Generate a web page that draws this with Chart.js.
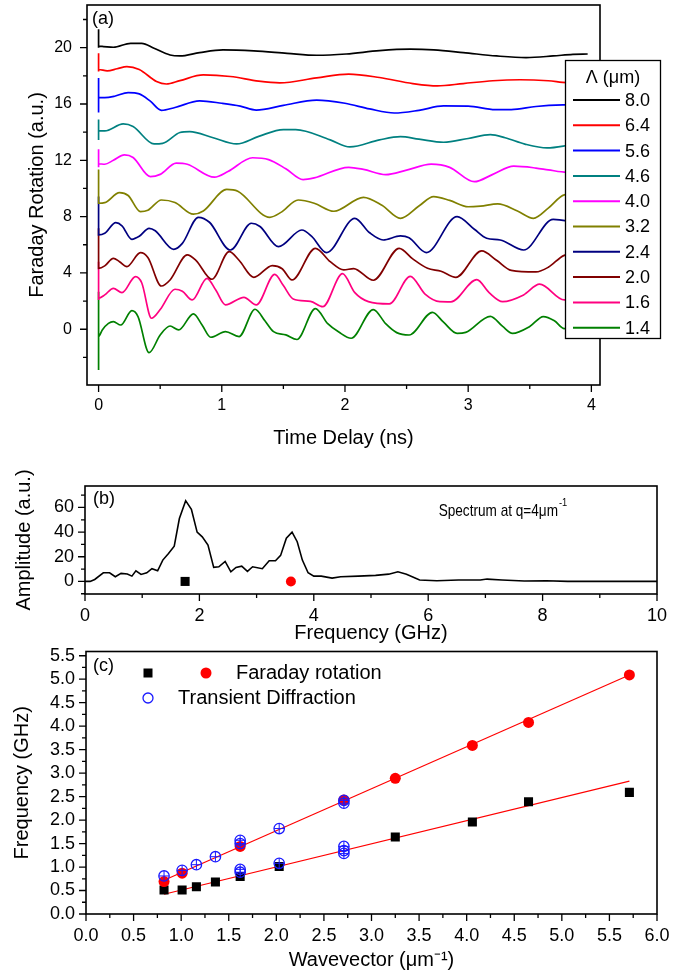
<!DOCTYPE html>
<html><head><meta charset="utf-8">
<script src="https://cdn.jsdelivr.net/npm/chart.js@4.4.0/dist/chart.umd.min.js"></script>
<style>
html,body{margin:0;padding:0;background:#fff;}
body{width:681px;height:975px;position:relative;overflow:hidden;}
canvas{position:absolute;left:0;display:block;}
</style></head><body>
<canvas id="ca" width="681" height="455" style="top:0px"></canvas>
<canvas id="cb" width="681" height="190" style="top:455px"></canvas>
<canvas id="cc" width="681" height="330" style="top:645px"></canvas>
<script>
// ---------------- DATA: panel (a) Faraday rotation traces ----------------
const lambdaLabels = ['8.0','6.4','5.6','4.6','4.0','3.2','2.4','2.0','1.6','1.4'];
const t80 = [0,0,0,0.04,0.12,0.26,0.35,0.45,0.58,0.66,0.82,1.01,1.26,1.53,1.77,2.01,2.28,2.53,2.72,2.96,3.23,3.47,3.69,3.85,3.97];
const v80 = [20.0,21.3,20.1,20.08,20.03,20.31,20.31,19.96,19.48,19.41,19.65,19.84,19.77,19.6,19.46,19.55,19.79,19.89,19.84,19.65,19.41,19.29,19.41,19.53,19.55];
const t64 = [0,0,0,0.07,0.15,0.23,0.33,0.47,0.55,0.66,0.85,1.07,1.3,1.47,1.77,2.03,2.28,2.55,2.75,2.96,3.2,3.42,3.65,3.8,4.0];
const v64 = [18.3,19.6,18.45,18.35,18.5,18.66,18.45,17.6,17.42,17.66,18.06,17.95,17.62,17.5,17.85,18.12,17.88,17.45,17.28,17.45,17.65,17.72,17.65,17.52,17.5];
const t56 = [0,0,0,0.05,0.13,0.24,0.33,0.42,0.51,0.62,0.82,1.0,1.15,1.28,1.5,1.77,2.0,2.2,2.4,2.6,2.8,3.0,3.22,3.35,3.55,3.77,4.0];
const v56 = [15.4,17.85,16.45,16.45,16.55,16.81,16.72,16.2,15.55,15.75,16.22,16.05,15.85,15.57,15.9,16.28,16.05,15.65,15.36,15.55,15.86,15.85,15.6,15.6,15.82,15.93,15.95];
const t46 = [0,0,0,0.05,0.2,0.28,0.45,0.52,0.66,0.74,0.93,1.12,1.3,1.5,1.6,1.88,2.04,2.28,2.45,2.6,2.8,3.0,3.18,3.3,3.46,3.64,3.8,4.0];
const v46 = [13.45,14.9,14.1,14.09,14.58,14.4,13.16,13.2,13.97,14.04,13.6,13.16,13.7,14.18,14.18,13.45,12.95,13.45,13.68,13.5,13.28,13.55,13.82,13.6,13.15,12.88,13.05,13.4];
const t40 = [0,0,0,0.05,0.12,0.21,0.28,0.42,0.5,0.63,0.72,0.94,1.05,1.25,1.38,1.52,1.66,1.75,2.03,2.15,2.33,2.5,2.7,2.85,3.05,3.2,3.37,3.55,3.65,3.8,4.0];
const v40 = [11.5,12.78,11.75,11.72,12.0,12.38,12.2,10.84,11.0,11.8,11.72,10.8,11.2,12.18,12.05,11.4,10.63,10.75,11.5,11.35,10.98,11.3,11.73,11.5,10.48,11.0,11.58,11.45,11.32,11.15,11.3];
const t32 = [0,0,0,0.05,0.17,0.24,0.34,0.4,0.51,0.62,0.77,0.85,1.04,1.13,1.39,1.48,1.62,1.75,1.91,2.15,2.3,2.45,2.6,2.72,2.85,3.0,3.1,3.24,3.4,3.53,3.65,3.78,4.0];
const v32 = [9.2,11.35,8.95,8.99,9.7,9.5,8.35,8.45,9.18,9.0,8.17,8.4,9.93,9.8,7.95,8.3,9.18,8.95,8.38,9.37,8.8,7.88,8.75,9.42,9.15,8.7,8.75,8.9,8.4,7.88,8.6,9.54,9.7];
const t24 = [0,0,0,0.05,0.14,0.19,0.27,0.33,0.41,0.46,0.61,0.68,0.81,0.9,1.07,1.24,1.31,1.46,1.65,1.73,1.85,2.08,2.2,2.31,2.45,2.52,2.66,2.91,3.05,3.15,3.26,3.45,3.69,3.8,4.0];
const v24 = [7.17,9.42,6.7,6.82,7.57,7.35,6.39,6.6,7.17,7.0,5.68,6.1,7.95,7.6,5.63,7.53,7.3,5.87,7.05,6.6,5.44,7.88,6.85,6.34,6.63,6.5,5.44,8.0,7.1,6.46,6.34,5.63,7.81,7.7,7.2];
const t20 = [0,0,0,0.05,0.12,0.17,0.23,0.34,0.4,0.51,0.58,0.72,0.79,0.92,1.06,1.14,1.26,1.41,1.49,1.57,1.76,1.88,1.99,2.07,2.23,2.44,2.55,2.67,2.78,2.9,3.11,3.23,3.35,3.55,3.65,3.78,4.0];
const v20 = [5.04,7.17,4.33,4.5,5.04,4.8,4.45,5.44,5.1,3.07,3.5,5.28,4.9,3.55,5.51,4.9,3.69,4.52,4.3,3.5,5.75,4.8,4.21,4.31,3.48,5.75,5.0,4.33,4.12,3.69,5.57,4.9,4.18,4.07,4.4,5.25,5.5];
const t16 = [0,0,0,0.05,0.12,0.19,0.3,0.35,0.43,0.5,0.62,0.68,0.76,0.88,0.95,1.03,1.18,1.28,1.43,1.5,1.58,1.72,1.82,1.98,2.08,2.19,2.36,2.53,2.65,2.77,2.86,3.07,3.17,3.28,3.45,3.58,3.78,4.0];
const v16 = [2.08,4.8,2.2,2.44,2.91,2.6,3.74,3.3,0.78,1.4,2.84,2.7,2.08,3.62,2.8,1.73,2.27,1.73,3.9,3.1,2.15,1.98,1.6,3.95,2.6,1.96,1.8,3.76,2.5,1.96,1.95,3.52,2.6,1.96,2.44,3.2,2.08,2.3];
const t14 = [0,0,0,0.03,0.08,0.12,0.18,0.27,0.32,0.41,0.5,0.58,0.65,0.77,0.84,0.91,1.03,1.14,1.27,1.35,1.42,1.52,1.61,1.76,1.86,1.95,2.05,2.23,2.33,2.42,2.52,2.71,2.8,2.91,2.98,3.18,3.28,3.36,3.5,3.61,3.7,3.78,4.0];
const v14 = [-2.89,2.67,-0.52,-0.05,0.42,0.54,0.3,1.32,0.9,-1.66,-0.41,0.23,-0.05,1.09,0.3,-0.57,-0.17,-0.52,1.42,0.6,-0.17,-0.4,-0.73,1.47,0.4,-0.2,-0.64,1.4,0.4,-0.24,-0.41,1.2,0.5,-0.29,-0.22,0.92,0.2,-0.29,0.2,0.9,0.6,0.05,0.5];
const timeSeries = [t80,t64,t56,t46,t40,t32,t24,t20,t16,t14];
const rotSeries  = [v80,v64,v56,v46,v40,v32,v24,v20,v16,v14];
const aXMajor = [0,1,2,3,4], aXMinor = [0.5,1.5,2.5,3.5];
const aYMajor = [0,4,8,12,16,20], aYMinor = [-2,2,6,10,14,18,22];

// ---------------- DATA: panel (b) spectrum ----------------
const freqB = [0,0.09,0.17,0.32,0.43,0.53,0.63,0.74,0.82,0.89,0.98,1.08,1.17,1.27,1.36,1.46,1.56,1.65,1.76,1.86,1.96,2.05,2.15,2.25,2.34,2.45,2.55,2.64,2.74,2.84,2.93,3.1,3.22,3.33,3.42,3.52,3.62,3.71,3.8,3.9,4.0,4.13,4.32,4.47,4.78,5.08,5.31,5.47,5.62,5.85,6.15,6.53,6.91,7.03,7.29,7.68,8.06,8.44,9.2,10];
const ampB  = [0,0,1.6,7,7,3.8,6.5,6,4.3,8.6,5.7,7,10.3,8.6,17.3,22.7,28.6,51,65.5,58.4,40,36.2,29.5,11.4,11.9,16.2,7.8,11.4,12.4,8.1,11.9,10.3,16.8,16.8,21.1,35.1,40,32.2,17.3,7,4.3,4.3,2.7,3.8,4.3,4.9,5.9,7.8,5.9,1.1,0.5,1.1,1.1,1.9,1.1,0.3,0.5,0,0,0];
const peakLowFreq = [1.75], peakLowAmp = [0];
const peakHighFreq = [3.6], peakHighAmp = [0];
const bXMajor = [0,2,4,6,8,10], bXMinor = [1,3,5,7,9];
const bYMajor = [0,20,40,60], bYMinor = [-10,10,30,50,70];

// ---------------- DATA: panel (c) dispersion ----------------
const qLow  = [0.82,1.01,1.16,1.36,1.62,2.03,3.25,4.06,4.65,5.71];
const fLow  = [0.51,0.51,0.58,0.68,0.8,1.01,1.64,1.96,2.39,2.59];
const qHigh = [0.82,1.01,1.62,2.71,3.25,4.06,4.65,5.71];
const fHigh = [0.69,0.87,1.44,2.43,2.89,3.59,4.08,5.09];
const qTD   = [0.82,1.01,1.16,1.36,1.62,1.62,2.03,2.71,2.71,1.62,1.62,2.03,2.71,2.71,2.71];
const fTD   = [0.81,0.93,1.05,1.22,1.57,1.5,1.82,2.42,2.36,0.95,0.89,1.08,1.44,1.35,1.29];
const qFit = [0.82,5.71], fFitHigh = [0.72,5.09], fFitLow = [0.42,2.83];
const cXMajor = [0,0.5,1,1.5,2,2.5,3,3.5,4,4.5,5,5.5,6];
const cXMinor = [0.25,0.75,1.25,1.75,2.25,2.75,3.25,3.75,4.25,4.75,5.25,5.75];
const cYMajor = [0,0.5,1,1.5,2,2.5,3,3.5,4,4.5,5,5.5];
const cYMinor = [0.25,0.75,1.25,1.75,2.25,2.75,3.25,3.75,4.25,4.75,5.25];

// ---------------- STYLE ----------------
const lineColors = ['#000000','#ff0000','#0000ff','#008080','#ff00ff','#808000','#000080','#800000','#ff0080','#008000'];
const FONT = '"Liberation Sans", Arial, Helvetica, sans-serif';
Chart.defaults.font.family = FONT;
Chart.defaults.color = '#000';

const pts = (xs, ys) => xs.map((x, i) => ({x: x, y: ys[i]}));

function options(W, H, area, xc, yc) {
  return {
    responsive: false, animation: false, devicePixelRatio: 1,
    layout: {padding: {left: 0, right: W - area.right, top: area.top, bottom: 0}},
    plugins: {legend: {display: false}, tooltip: {enabled: false}},
    scales: {
      x: {
        type: 'linear', position: 'bottom', min: xc.min, max: xc.max,
        grid: {display: false, drawTicks: false}, border: {display: false},
        ticks: {font: {size: xc.size}, padding: xc.pad, maxRotation: 0, autoSkip: false, callback: v => xc.fmt(v)},
        afterBuildTicks: s => { s.ticks = xc.major.map(v => ({value: v})); },
        afterFit: s => { s.height = H - area.bottom; s.paddingLeft = 0; s.paddingRight = 0; s.paddingTop = 0; s.paddingBottom = 0; },
        title: {display: true, text: xc.title, font: {size: 20}, color: '#000', padding: {top: 0, bottom: xc.tpad}}
      },
      y: {
        type: 'linear', position: 'left', min: yc.min, max: yc.max,
        grid: {display: false, drawTicks: false}, border: {display: false},
        ticks: {font: {size: yc.size}, padding: yc.pad, autoSkip: false, callback: v => yc.fmt(v)},
        afterBuildTicks: s => { s.ticks = yc.major.map(v => ({value: v})); },
        afterFit: s => { s.width = area.left; s.paddingLeft = 0; s.paddingRight = 0; s.paddingTop = 0; s.paddingBottom = 0; },
        title: {display: true, text: yc.title, font: {size: 20}, color: '#000', padding: {top: yc.tpad, bottom: 0}}
      }
    }
  };
}

function drawFrame(chart, xMaj, xMin, yMaj, yMin) {
  const {ctx, chartArea: a, scales: {x, y}} = chart;
  ctx.save();
  ctx.strokeStyle = '#000';
  ctx.lineWidth = 1.3;
  ctx.beginPath();
  xMaj.forEach(v => { const p = x.getPixelForValue(v); ctx.moveTo(p, a.bottom); ctx.lineTo(p, a.bottom + 7); });
  xMin.forEach(v => { const p = x.getPixelForValue(v); ctx.moveTo(p, a.bottom); ctx.lineTo(p, a.bottom + 4); });
  yMaj.forEach(v => { const p = y.getPixelForValue(v); ctx.moveTo(a.left, p); ctx.lineTo(a.left - 7, p); });
  yMin.forEach(v => { const p = y.getPixelForValue(v); ctx.moveTo(a.left, p); ctx.lineTo(a.left - 4, p); });
  ctx.stroke();
  ctx.lineWidth = 1.6;
  ctx.strokeRect(a.left, a.top, a.right - a.left, a.bottom - a.top);
  ctx.restore();
}

function text(ctx, s, x, y, size, align, sx) {
  ctx.save();
  ctx.font = size + 'px ' + FONT;
  ctx.fillStyle = '#000';
  ctx.textAlign = align || 'left';
  ctx.textBaseline = 'middle';
  ctx.translate(x, y);
  ctx.scale(sx || 1, 1);
  ctx.fillText(s, 0, 0);
  ctx.restore();
}

// ---------------- PANEL (a) ----------------
const areaA = {left: 87, right: 600, top: 5, bottom: 385};
new Chart(document.getElementById('ca'), {
  type: 'line',
  data: {
    datasets: lambdaLabels.map((lab, i) => ({
      label: lab, data: pts(timeSeries[i], rotSeries[i]),
      borderColor: lineColors[i], borderWidth: 1.7, pointRadius: 0,
      cubicInterpolationMode: 'monotone', fill: false
    }))
  },
  options: options(681, 455, areaA,
    {min: -0.094, max: 4.07, major: aXMajor, fmt: v => String(v), size: 16, pad: 11, title: 'Time Delay (ns)', tpad: 5},
    {min: -3.96, max: 23.03, major: aYMajor, fmt: v => String(v), size: 16, pad: 15, title: 'Faraday Rotation (a.u.)', tpad: 25}),
  plugins: [{
    id: 'decorA',
    afterDraw(chart) {
      const ctx = chart.ctx;
      drawFrame(chart, aXMajor, aXMinor, aYMajor, aYMinor);
      text(ctx, '(a)', 92, 19, 18, 'left');
      ctx.save();
      ctx.fillStyle = '#fff';
      ctx.fillRect(565, 60, 95, 278);
      ctx.strokeStyle = '#000'; ctx.lineWidth = 1.3;
      ctx.strokeRect(565.5, 60.5, 95, 278);
      ctx.restore();
      text(ctx, 'Λ (μm)', 613, 78, 18, 'center');
      lambdaLabels.forEach((lab, i) => {
        const yy = 100 + i * 25.3;
        ctx.save();
        ctx.strokeStyle = lineColors[i]; ctx.lineWidth = 2;
        ctx.beginPath(); ctx.moveTo(573, yy); ctx.lineTo(620, yy); ctx.stroke();
        ctx.restore();
        text(ctx, lab, 625, yy + 1, 18, 'left');
      });
    }
  }]
});

// ---------------- PANEL (b) ----------------
const areaB = {left: 85, right: 657, top: 31, bottom: 139};
new Chart(document.getElementById('cb'), {
  type: 'line',
  data: {
    datasets: [
      {data: pts(peakLowFreq, peakLowAmp), showLine: false, pointStyle: 'rect', pointRadius: 6.4, backgroundColor: '#000', borderColor: '#000', borderWidth: 0},
      {data: pts(peakHighFreq, peakHighAmp), showLine: false, pointStyle: 'circle', pointRadius: 5, backgroundColor: '#ff0000', borderColor: '#ff0000', borderWidth: 0},
      {data: pts(freqB, ampB), borderColor: '#000', borderWidth: 1.6, pointRadius: 0, tension: 0, fill: false}
    ]
  },
  options: options(681, 190, areaB,
    {min: 0, max: 10, major: bXMajor, fmt: v => String(v), size: 18, pad: 11, title: 'Frequency (GHz)', tpad: 0},
    {min: -10.2, max: 77.4, major: bYMajor, fmt: v => String(v), size: 18, pad: 11, title: 'Amplitude (a.u.)', tpad: 12}),
  plugins: [{
    id: 'decorB',
    afterDraw(chart) {
      const ctx = chart.ctx;
      drawFrame(chart, bXMajor, bXMinor, bYMajor, bYMinor);
      text(ctx, '(b)', 93, 44, 18, 'left');
      text(ctx, 'Spectrum at q=4μm', 558, 56, 17, 'right', 0.8);
      text(ctx, '-1', 559, 48, 11, 'left', 0.85);
    }
  }]
});

// ---------------- PANEL (c) ----------------
const areaC = {left: 86, right: 657, top: 6, bottom: 269};
new Chart(document.getElementById('cc'), {
  type: 'line',
  data: {
    datasets: [
      {data: pts(qTD, fTD), showLine: false, pointStyle: 'cross', pointRadius: 5, borderColor: '#1a1aff', borderWidth: 1},
      {data: pts(qTD, fTD), showLine: false, pointStyle: 'circle', pointRadius: 5.2, backgroundColor: 'rgba(0,0,0,0)', borderColor: '#1a1aff', borderWidth: 1.3},
      {data: pts(qHigh, fHigh), showLine: false, pointStyle: 'circle', pointRadius: 5.5, backgroundColor: '#ff0000', borderColor: '#ff0000', borderWidth: 0},
      {data: pts(qLow, fLow), showLine: false, pointStyle: 'rect', pointRadius: 6.4, backgroundColor: '#000', borderColor: '#000', borderWidth: 0},
      {data: pts(qFit, fFitHigh), borderColor: '#ff0000', borderWidth: 1.2, pointRadius: 0, tension: 0},
      {data: pts(qFit, fFitLow), borderColor: '#ff0000', borderWidth: 1.2, pointRadius: 0, tension: 0}
    ]
  },
  options: options(681, 330, areaC,
    {min: 0, max: 6, major: cXMajor, fmt: v => v.toFixed(1), size: 18, pad: 11, title: 'Wavevector (μm⁻¹)', tpad: 3},
    {min: 0, max: 5.59, major: cYMajor, fmt: v => v.toFixed(1), size: 18, pad: 11, title: 'Frequency (GHz)', tpad: 10}),
  plugins: [{
    id: 'decorC',
    afterDraw(chart) {
      const ctx = chart.ctx;
      drawFrame(chart, cXMajor, cXMinor, cYMajor, cYMinor);
      text(ctx, '(c)', 93, 21, 18, 'left');
      ctx.save();
      ctx.fillStyle = '#000'; ctx.fillRect(143.5, 23.5, 9, 9);
      ctx.fillStyle = '#ff0000'; ctx.beginPath(); ctx.arc(206, 28, 5.5, 0, 2 * Math.PI); ctx.fill();
      ctx.strokeStyle = '#1a1aff'; ctx.lineWidth = 1.3; ctx.beginPath(); ctx.arc(148, 53, 5, 0, 2 * Math.PI); ctx.stroke();
      ctx.restore();
      text(ctx, 'Faraday rotation', 236, 28, 20, 'left');
      text(ctx, 'Transient Diffraction', 178, 53, 20, 'left');
    }
  }]
});
</script>
</body></html>
